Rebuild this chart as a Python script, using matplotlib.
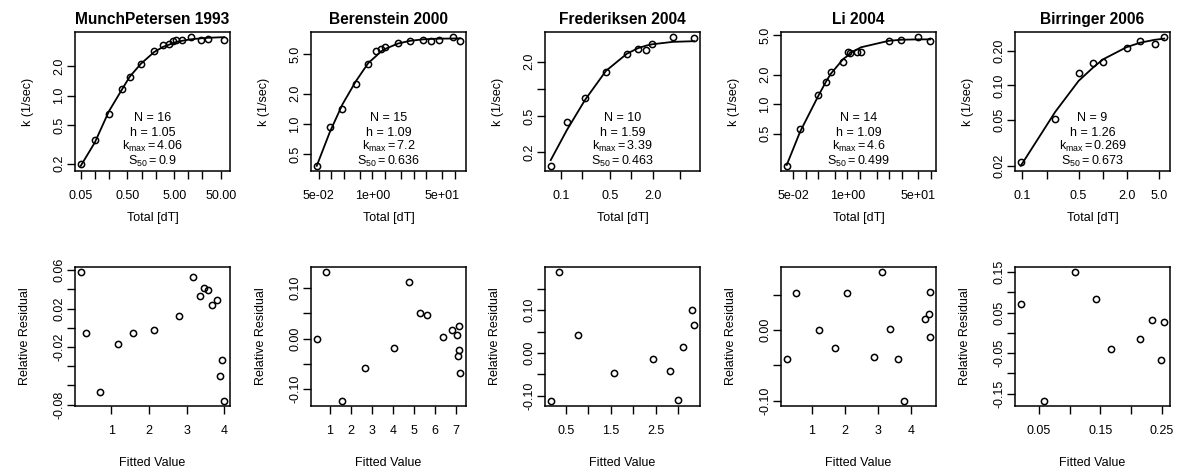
import matplotlib
matplotlib.use("Agg")
import matplotlib.pyplot as plt

plt.rcParams['font.family'] = ['Liberation Sans', 'DejaVu Sans']
plt.rcParams['mathtext.fontset'] = 'custom'
plt.rcParams['mathtext.rm'] = 'Liberation Sans'
plt.rcParams['mathtext.it'] = 'Liberation Sans:italic'

titles = ["MunchPetersen 1993", "Berenstein 2000", "Frederiksen 2004", "Li 2004", "Birringer 2006"]
n_pts = [16, 15, 10, 14, 9]
h_vals = ["1.05", "1.09", "1.59", "1.09", "1.26"]
kmax_vals = ["4.06", "7.2", "3.39", "4.6", "0.269"]
s50_vals = ["0.9", "0.636", "0.463", "0.499", "0.673"]

# MunchPetersen 1993
mp_total = [0.05, 0.10, 0.20, 0.39, 0.56, 0.97, 1.86, 2.9, 3.9, 4.8, 5.6, 7.4, 11.4, 18.6, 26.8, 59]
mp_k = [0.20, 0.353, 0.652, 1.17, 1.56, 2.14, 2.89, 3.32, 3.42, 3.61, 3.72, 3.72, 3.99, 3.72, 3.84, 3.75]
mp_fit = [0.19, 0.33, 0.69, 1.18, 1.57, 2.13, 2.81, 3.18, 3.35, 3.47, 3.57, 3.67, 3.80, 3.89, 3.94, 4.00]
mp_res = [0.058, -0.005, -0.067, -0.017, -0.005, -0.002, 0.012, 0.053, 0.033, 0.042, 0.039, 0.024, 0.029, -0.050, -0.033, -0.076]

# Berenstein 2000
be_total = [0.0447, 0.0926, 0.188, 0.397, 0.792, 1.22, 1.58, 2.05, 4.18, 8.18, 17.3, 26.0, 42.3, 87.7, 135]
be_k = [0.38, 0.927, 1.41, 2.53, 4.01, 5.35, 5.56, 5.87, 6.38, 6.73, 6.94, 6.73, 6.94, 7.38, 6.73]
be_fit = [0.38, 0.826, 1.57, 2.67, 4.06, 4.76, 5.28, 5.63, 6.37, 6.78, 7.02, 7.08, 7.13, 7.15, 7.19]
be_res = [0.0, 0.132, -0.124, -0.059, -0.019, 0.112, 0.051, 0.046, 0.003, 0.017, 0.007, -0.034, 0.025, -0.022, -0.068]

# Frederiksen 2004
fr_total = [0.0711, 0.1205, 0.220, 0.435, 0.867, 1.245, 1.64, 1.97, 3.89, 7.85]
fr_k = [0.1417, 0.430, 0.794, 1.53, 2.41, 2.73, 2.71, 3.15, 3.72, 3.60]
fr_fit = [0.164, 0.351, 0.761, 1.582, 2.448, 2.813, 3.007, 3.104, 3.30, 3.358]
fr_res = [-0.112, 0.189, 0.043, -0.048, -0.014, -0.043, -0.109, 0.015, 0.100, 0.066]

# Li 2004
li_total = [0.0352, 0.0737, 0.203, 0.311, 0.403, 0.798, 1.03, 1.175, 1.73, 2.09, 9.84, 19.5, 49.9, 97]
li_k = [0.235, 0.553, 1.23, 1.68, 2.11, 2.69, 3.42, 3.34, 3.39, 3.42, 4.38, 4.52, 4.81, 4.38]
li_fit = [0.24, 0.524, 1.223, 1.709, 2.044, 2.885, 3.118, 3.351, 3.604, 3.786, 4.414, 4.526, 4.566, 4.566]
li_res = [-0.041, 0.052, 0.0005, -0.0255, 0.052, -0.038, 0.082, 0.002, -0.041, -0.100, 0.016, 0.023, 0.054, -0.010]

# Birringer 2006
bi_total = [0.0953, 0.256, 0.501, 0.764, 1.01, 1.98, 2.90, 4.42, 5.84]
bi_k = [0.0215, 0.0513, 0.1284, 0.1557, 0.1588, 0.209, 0.2425, 0.230, 0.262]
bi_fit = [0.020, 0.0588, 0.1093, 0.1434, 0.1681, 0.2143, 0.2341, 0.2484, 0.2544]
bi_res = [0.071, -0.168, 0.150, 0.084, -0.041, -0.016, 0.032, -0.068, 0.026]

totals = [mp_total, be_total, fr_total, li_total, bi_total]
ks = [mp_k, be_k, fr_k, li_k, bi_k]
fits = [mp_fit, be_fit, fr_fit, li_fit, bi_fit]
resids = [mp_res, be_res, fr_res, li_res, bi_res]

# tick values and labels ('' = tick without label, as R drops overlapping ones)
log125 = [0.02, 0.05, 0.1, 0.2, 0.5, 1, 2, 5, 10, 20, 50, 100]
top_xlabels = [
    {0.05: "0.05", 0.5: "0.50", 5: "5.00", 50: "50.00"},
    {0.05: "5e-02", 1: "1e+00", 50: "5e+01"},
    {0.1: "0.1", 0.5: "0.5", 2: "2.0"},
    {0.05: "5e-02", 1: "1e+00", 50: "5e+01"},
    {0.1: "0.1", 0.5: "0.5", 2: "2.0", 5: "5.0"},
]
top_ylabels = [
    {0.2: "0.2", 0.5: "0.5", 1: "1.0", 2: "2.0"},
    {0.5: "0.5", 1: "1.0", 2: "2.0", 5: "5.0"},
    {0.2: "0.2", 0.5: "0.5", 2: "2.0"},
    {0.5: "0.5", 1: "1.0", 2: "2.0", 5: "5.0"},
    {0.02: "0.02", 0.05: "0.05", 0.1: "0.10", 0.2: "0.20"},
]
bot_xticks = [[1, 2, 3, 4], [1, 2, 3, 4, 5, 6, 7], [0.5, 1.0, 1.5, 2.0, 2.5, 3.0],
              [1, 2, 3, 4], [0.05, 0.10, 0.15, 0.20, 0.25]]
bot_xlabels = [["1", "2", "3", "4"], ["1", "2", "3", "4", "5", "6", "7"],
               ["0.5", "", "1.5", "", "2.5", ""], ["1", "2", "3", "4"],
               ["0.05", "", "0.15", "", "0.25"]]
bot_yticks = [[-0.08, -0.06, -0.04, -0.02, 0.0, 0.02, 0.04, 0.06],
              [-0.10, -0.05, 0.0, 0.05, 0.10],
              [-0.10, -0.05, 0.0, 0.05, 0.10, 0.15],
              [-0.10, -0.05, 0.0, 0.05],
              [-0.15, -0.10, -0.05, 0.0, 0.05, 0.10, 0.15]]
bot_ylabels = [["-0.08", "", "", "-0.02", "", "0.02", "", "0.06"],
               ["-0.10", "", "0.00", "", "0.10"],
               ["-0.10", "", "0.00", "", "0.10", ""],
               ["-0.10", "", "0.00", ""],
               ["-0.15", "", "-0.05", "", "0.05", "", "0.15"]]

W, H = 1200, 474
fig = plt.figure(figsize=(W / 100, H / 100), dpi=100)
lefts = [75, 311, 545, 781, 1015]
bw, bh = 155, 139
fs = 9


def make_ax(left, top):
    ax = fig.add_axes([left / W, 1 - (top + bh) / H, bw / W, bh / H])
    for s in ax.spines.values():
        s.set_linewidth(1.1)
    ax.tick_params(direction='out', length=6, width=1.0, labelsize=fs, colors='black')
    ax.tick_params(axis='x', pad=8)
    ax.tick_params(axis='y', pad=1, labelrotation=90)
    return ax


def set_ticks(ax, xt, xl, yt, yl):
    # R-style: limits come from the points (4% padding), ticks must not widen them
    xlim, ylim = ax.get_xlim(), ax.get_ylim()
    ax.set_xticks(xt)
    ax.set_xticklabels(xl)
    ax.set_yticks(yt)
    ax.set_yticklabels(yl)
    ax.set_xlim(xlim)
    ax.set_ylim(ylim)
    ax.xaxis.set_minor_locator(matplotlib.ticker.NullLocator())
    ax.yaxis.set_minor_locator(matplotlib.ticker.NullLocator())
    for t in ax.get_yticklabels():
        t.set_va('center')


for i in range(5):
    # top: data with fitted curve, log-log
    ax = make_ax(lefts[i], 32)
    ax.set_xscale('log')
    ax.set_yscale('log')
    ax.plot(totals[i], ks[i], 'o', mfc='none', mec='black', ms=4.5, mew=1.1)
    ax.margins(0.04)
    ax.plot(totals[i], fits[i], '-', color='black', lw=1.3, scalex=False, scaley=False)
    set_ticks(ax, log125, [top_xlabels[i].get(v, "") for v in log125],
              log125, [top_ylabels[i].get(v, "") for v in log125])
    ax.text(0.5, 1.06, titles[i], transform=ax.transAxes, ha='center', va='baseline',
            fontsize=11.2, fontweight='bold')
    ax.text(0.5, -0.34, "Total [dT]", transform=ax.transAxes, ha='center', va='center', fontsize=fs)
    ax.text(-0.30, 0.5, "k (1/sec)", transform=ax.transAxes, ha='center', va='center',
            rotation=90, fontsize=fs)
    lines = ["N = %d" % n_pts[i], "h = " + h_vals[i],
             r"$\mathrm{k_{max}} = %s$" % kmax_vals[i], r"$\mathrm{S_{50}} = %s$" % s50_vals[i]]
    for j, s in enumerate(lines):
        ax.text(0.5, 0.36 - 0.105 * j, s, transform=ax.transAxes, ha='center', va='baseline', fontsize=fs)

    # bottom: residuals vs fitted
    ax2 = make_ax(lefts[i], 267)
    ax2.plot(fits[i], resids[i], 'o', mfc='none', mec='black', ms=4.5, mew=1.1)
    ax2.margins(0.04)
    set_ticks(ax2, bot_xticks[i], bot_xlabels[i], bot_yticks[i], bot_ylabels[i])
    ax2.text(0.5, -0.41, "Fitted Value", transform=ax2.transAxes, ha='center', va='center', fontsize=fs)
    ax2.text(-0.32, 0.5, "Relative Residual", transform=ax2.transAxes, ha='center', va='center',
             rotation=90, fontsize=fs)

fig.savefig("out.png", dpi=100)
